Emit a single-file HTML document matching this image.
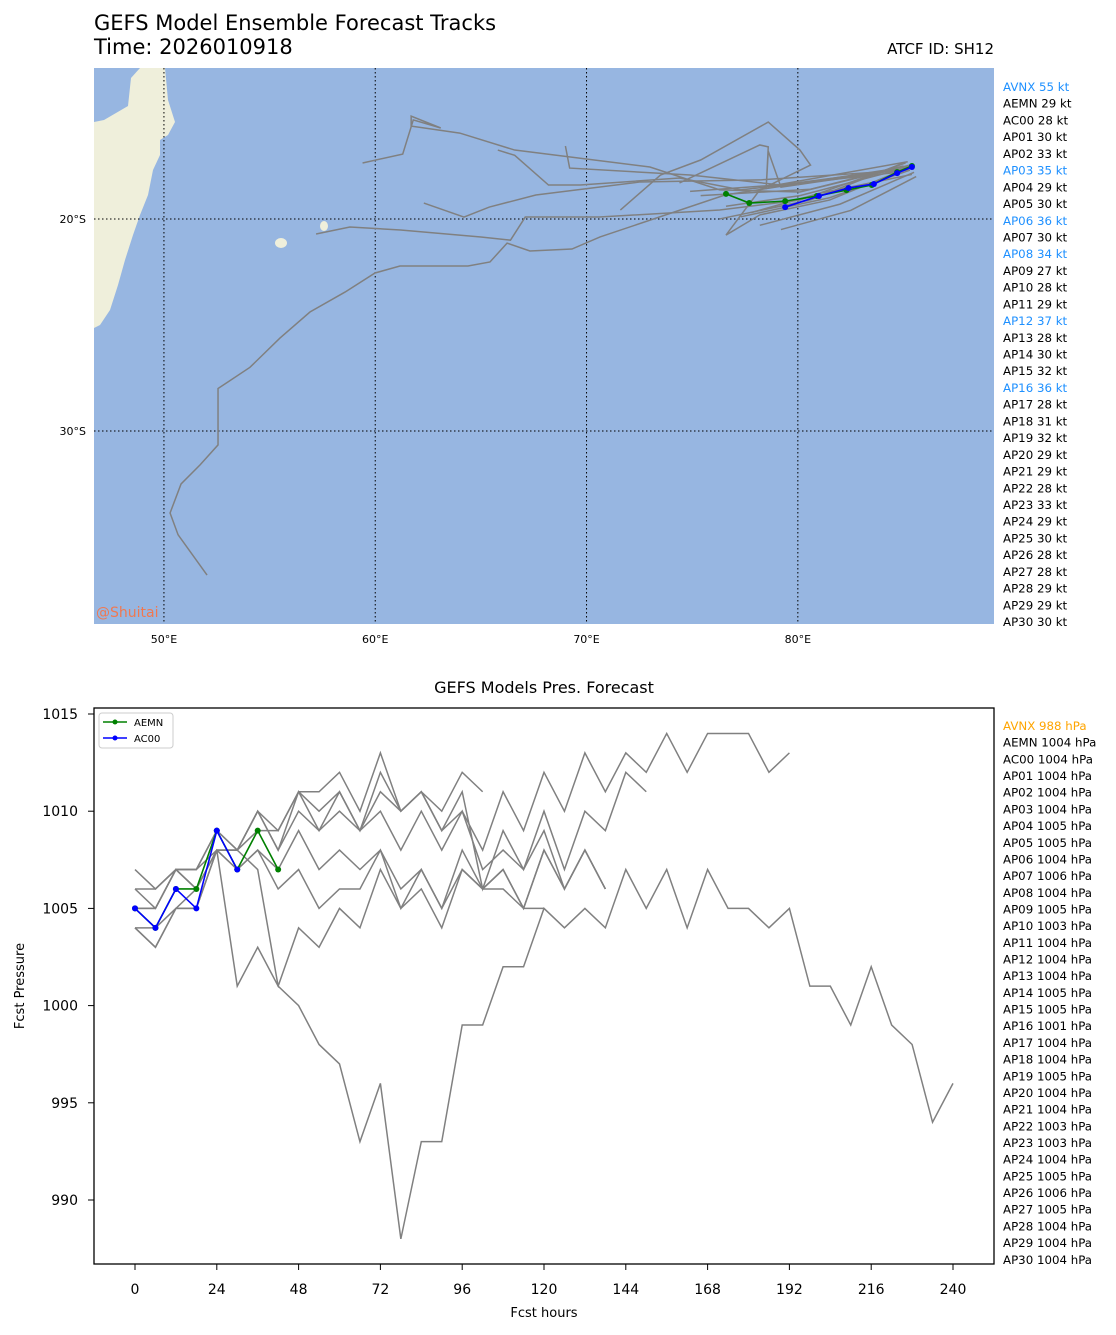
<!DOCTYPE html>
<html><head><meta charset="utf-8"><style>
html,body{margin:0;padding:0;background:#fff;}
svg{display:block;font-family:"DejaVu Sans","Liberation Sans",sans-serif;}
</style></head><body>
<svg id="root" width="1116" height="1335" viewBox="0 0 1116 1335" xmlns="http://www.w3.org/2000/svg">
<text x="94" y="30" font-size="21">GEFS Model Ensemble Forecast Tracks</text>
<text x="94" y="54" font-size="21">Time: 2026010918</text>
<text x="994" y="54" font-size="15" text-anchor="end">ATCF ID: SH12</text>
<defs><clipPath id="mapclip"><rect x="94" y="68" width="900" height="556"/></clipPath></defs>
<g id="map">
<rect x="94" y="68" width="900" height="556" fill="#97b6e1"/>
<g clip-path="url(#mapclip)">
<path d="M94,122 L104,120 L128,106 L131,78 L140,68 L165,68 L168,100 L175,122 L168,135 L160,140 L160,155 L153,170 L148,195 L140,215 L133,235 L125,260 L118,285 L110,310 L100,325 L94,328 Z" fill="#efefdb"/>
<path d="M158,122 L162,124 L160,130 L157,128Z" fill="#efefdb"/>
<ellipse cx="281" cy="243" rx="6" ry="5" fill="#efefdb"/>
<ellipse cx="324" cy="226" rx="4" ry="5" fill="#efefdb"/>
<g id="grid"></g><g id="tracks"></g>
</g>
<text x="96" y="617" font-size="14" fill="#f07850">@Shuitai</text>
<g id="maplabels"></g>
</g>
<g id="windlegend"></g>

<text x="544" y="693" font-size="16" text-anchor="middle">GEFS Models Pres. Forecast</text>
<g id="pchart"></g>
<rect x="94" y="708" width="900" height="556" fill="none" stroke="#000" stroke-width="1.3"/>
<text x="544" y="1317" font-size="13" text-anchor="middle">Fcst hours</text>
<text x="24" y="986" font-size="13" text-anchor="middle" transform="rotate(-90 24 986)">Fcst Pressure</text>
<g>
<rect x="99" y="713" width="74" height="35" rx="3" fill="#fff" stroke="#ccc"/>
<line x1="103" y1="722" x2="127" y2="722" stroke="green" stroke-width="1.5"/>
<circle cx="115" cy="722" r="2.5" fill="green"/>
<text x="134" y="726" font-size="10">AEMN</text>
<line x1="103" y1="738" x2="127" y2="738" stroke="blue" stroke-width="1.5"/>
<circle cx="115" cy="738" r="2.5" fill="blue"/>
<text x="134" y="742" font-size="10">AC00</text>
</g>
<g id="preslegend"></g>
</svg>
<script>
// ---- map data (lon, lat) ----
const lonTicks=[50,60,70,80];
const latTicks=[-20,-30];
const trackLon=[
 [85.4,76.55,70.64,69.31,67.32,66.24,65.43,64.39,61.17,59.99,58.57,56.91,55.49,54.07,52.56,52.56,51.71,50.81,50.29,50.67,52.04],
 [59.4,61.3,61.8,63.1,61.7,61.7,64.0,66.6,73.0,76.3,80.1,85.3],
 [69.0,69.2,74.9,79.2,85.3],
 [62.3,64.2,65.4,67.6,72.5,78.2,85.3],
 [57.2,58.8,61.2,65.0,66.4,67.1,70.6,76.3,80.1,85.1],
 [65.8,66.6,68.2,69.7,74.4,77.3,84.8],
 [71.6,73.5,75.4,78.6,80.1,80.6,78.2,76.6,78.2,81.5,85.3],
 [74.4,78.2,78.6,78.5,78.6,79.2,85.4],
 [76.6,80.1,85.1],[77.3,81.5,85.3],[75.4,80.6,85.0],[78.2,82.0,85.5],[76.3,80.6,84.9],[79.2,82.5,85.6],[74.9,79.0,85.2],[77.8,81.0,85.4]
];
const trackLat=[
 [-17.5,-18.87,-20.85,-21.42,-21.51,-21.14,-22.03,-22.22,-22.22,-22.55,-23.45,-24.39,-25.62,-27.0,-28.0,-30.66,-31.6,-32.5,-33.87,-34.9,-36.8],
 [-17.36,-16.94,-15.33,-15.71,-15.15,-15.62,-15.95,-16.75,-17.55,-18.63,-18.73,-17.46],
 [-16.56,-17.6,-17.93,-18.4,-17.6],
 [-19.25,-19.91,-19.44,-18.87,-18.26,-18.16,-17.69],
 [-20.71,-20.38,-20.52,-20.85,-21.0,-19.91,-19.91,-19.58,-19.11,-17.36],
 [-16.75,-17.0,-18.4,-18.4,-18.07,-18.63,-17.79],
 [-19.58,-17.93,-17.22,-15.43,-16.75,-17.46,-18.63,-20.76,-19.81,-19.11,-17.55],
 [-18.3,-16.51,-16.6,-18.6,-16.8,-18.5,-17.6],
 [-19.4,-18.9,-17.6],[-19.9,-19.0,-17.7],[-18.9,-18.6,-17.5],[-20.3,-19.3,-17.8],[-20.0,-19.1,-17.4],[-20.5,-19.6,-18.0],[-18.7,-18.4,-17.3],[-19.7,-18.8,-17.9]
];
const aemnLon=[76.6,77.7,79.4,80.9,82.3,83.5,84.7,85.4];
const aemnLat=[-18.82,-19.25,-19.16,-18.92,-18.64,-18.4,-17.79,-17.5];
const ac00Lon=[79.4,81.0,82.4,83.6,84.7,85.4];
const ac00Lat=[-19.44,-18.92,-18.54,-18.35,-17.84,-17.55];
const windNames=["AVNX","AEMN","AC00"].concat(Array.from({length:31},(_,i)=>"AP"+String(i).padStart(2,"0")).slice(1));
const windVals=[55,29,28,30,33,35,29,30,36,30,34,27,28,29,37,28,30,32,36,28,31,32,29,29,28,33,29,30,28,28,29,29,30];
// ---- pressure data ----
const hourTicks=[0,24,48,72,96,120,144,168,192,216,240];
const presTicks=[990,995,1000,1005,1010,1015];
const aemnPres=[1005,1004,1006,1006,1009,1007,1009,1007];
const ac00Pres=[1005,1004,1006,1005,1009,1007];
const grayPres=[
 [1006,1006,1007,1007,1009,1008,1010,1009,1011,1011,1012,1010,1013,1010,1011,1010,1012,1011],
 [1005,1005,1007,1007,1009,1008,1010,1008,1011,1010,1011,1009,1012,1010,1011,1009,1010,1008,1011,1009,1012,1010,1013,1011,1013,1012,1014,1012,1014,1014,1014,1012,1013],
 [1006,1005,1007,1006,1008,1008,1009,1009,1011,1009,1011,1009,1011,1010,1011,1009,1011,1006,1009,1007,1010,1007,1010,1009,1012,1011],
 [1007,1006,1007,1007,1008,1008,1010,1008,1010,1009,1010,1009,1010,1008,1010,1008,1010,1007,1008,1007,1009,1006,1008,1006],
 [1005,1005,1007,1006,1008,1007,1008,1007,1009,1007,1008,1007,1008,1006,1007,1005,1008,1006,1007,1005,1008,1006,1008,1006],
 [1004,1003,1005,1006,1008,1007,1008,1006,1007,1005,1006,1006,1008,1005,1007,1005,1007,1006,1006,1005,1005],
 [1004,1004,1005,1005,1008,1001,1003,1001,1004,1003,1005,1004,1007,1005,1006,1004,1007,1006,1007,1005,1008,1006,1008,1006],
 [1004,1003,1005,1005,1008,1008,1007,1001,1000,998,997,993,996,988,993,993,999,999,1002,1002,1005,1004,1005,1004,1007,1005,1007,1004,1007,1005,1005,1004,1005,1001,1001,999,1002,999,998,994,996]
];
const presNames=windNames;
const presVals=[988,1004,1004,1004,1004,1004,1005,1005,1004,1006,1004,1005,1003,1004,1004,1004,1005,1005,1001,1004,1004,1005,1004,1004,1003,1003,1004,1005,1006,1005,1004,1004,1004];

const NS="http://www.w3.org/2000/svg";
function mk(tag,attrs,parent){const e=document.createElementNS(NS,tag);for(const k in attrs)e.setAttribute(k,attrs[k]);parent.appendChild(e);return e;}
const lonX=lon=>94+(lon-46.69)*21.13;
const latY=lat=>68+(-lat-12.88)*21.2;
const hX=h=>135+h*(818/240);
const pY=p=>714+(1015-p)*19.44;

const grid=document.getElementById('grid'),ml=document.getElementById('maplabels');
lonTicks.forEach(l=>{const e=mk('line',{x1:lonX(l),x2:lonX(l),y1:68,y2:624,stroke:'#000','stroke-width':1,'stroke-dasharray':'1.5,2.5'},grid);

const t=mk('text',{x:lonX(l),y:643,'font-size':11,'text-anchor':'middle'},ml);t.textContent=l+"°E";
});
latTicks.forEach(l=>{const e=mk('line',{x1:94,x2:994,y1:latY(l),y2:latY(l),stroke:'#000','stroke-width':1,'stroke-dasharray':'1.5,2.5'},grid);

const t=mk('text',{x:86,y:latY(l)+4,'font-size':11,'text-anchor':'end'},ml);t.textContent=(-l)+"°S";
});

const tg=document.getElementById('tracks');
trackLon.forEach((lons,i)=>{const pts=lons.map((l,j)=>lonX(l)+","+latY(trackLat[i][j])).join(" ");
const e=mk('polyline',{points:pts,fill:'none',stroke:'#808080','stroke-width':1.5},tg);
});
function mapSeries(lons,lats,col,name){const pts=lons.map((l,j)=>lonX(l)+","+latY(lats[j])).join(" ");
const e=mk('polyline',{points:pts,fill:'none',stroke:col,'stroke-width':1.6},tg);

lons.forEach((l,j)=>{const c=mk('circle',{cx:lonX(l),cy:latY(lats[j]),r:3,fill:col},tg);
});}
mapSeries(aemnLon,aemnLat,'green','aemn');
mapSeries(ac00Lon,ac00Lat,'blue','ac00');

const wl=document.getElementById('windlegend');
windNames.forEach((n,i)=>{const t=mk('text',{x:1003,y:91+i*16.72,'font-size':11.8,fill:windVals[i]>=34?'#1e90ff':'#000'},wl);
t.textContent=n+" "+windVals[i]+" kt";});

const pc=document.getElementById('pchart');
hourTicks.forEach(h=>{const l=mk('line',{x1:hX(h),x2:hX(h),y1:1264,y2:1270,stroke:'#000'},pc);

const t=mk('text',{x:hX(h),y:1294,'font-size':14,'text-anchor':'middle'},pc);t.textContent=h;
});
presTicks.forEach(p=>{const l=mk('line',{x1:88,x2:94,y1:pY(p),y2:pY(p),stroke:'#000'},pc);

const t=mk('text',{x:78,y:pY(p)+5,'font-size':14,'text-anchor':'end'},pc);t.textContent=p;
});
grayPres.forEach(s=>{const e=mk('polyline',{points:s.map((p,j)=>hX(j*6)+","+pY(p)).join(" "),fill:'none',stroke:'#808080','stroke-width':1.5},pc);
});
function presSeries(s,col,name){const e=mk('polyline',{points:s.map((p,j)=>hX(j*6)+","+pY(p)).join(" "),fill:'none',stroke:col,'stroke-width':1.6},pc);

s.forEach((p,j)=>{const c=mk('circle',{cx:hX(j*6),cy:pY(p),r:3,fill:col},pc);
});}
presSeries(aemnPres,'green','aemn');
presSeries(ac00Pres,'blue','ac00');

const pl=document.getElementById('preslegend');
presNames.forEach((n,i)=>{const t=mk('text',{x:1003,y:730+i*16.68,'font-size':11.8,fill:i===0?'orange':'#000'},pl);
t.textContent=n+" "+presVals[i]+" hPa";});
</script>
</body></html>
